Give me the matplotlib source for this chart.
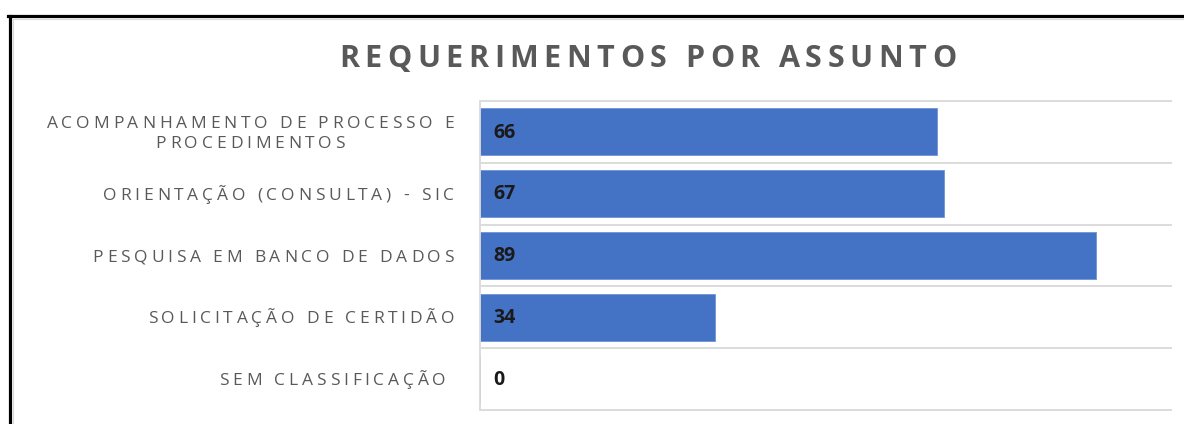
import matplotlib
matplotlib.use("Agg")
import matplotlib.pyplot as plt
from matplotlib.font_manager import FontProperties
from matplotlib.lines import Line2D
from matplotlib.transforms import IdentityTransform

categories = [
    ["ACOMPANHAMENTO DE PROCESSO E", "PROCEDIMENTOS"],
    ["ORIENTAÇÃO (CONSULTA) - SIC"],
    ["PESQUISA EM BANCO DE DADOS"],
    ["SOLICITAÇÃO DE CERTIDÃO"],
    ["SEM CLASSIFICAÇÃO "],
]
values = [66, 67, 89, 34, 0]
title = "REQUERIMENTOS POR ASSUNTO"

W, H = 1184, 424
fig = plt.figure(figsize=(W / 100, H / 100), dpi=100)
fig.patch.set_facecolor("white")
ax = fig.add_axes([480 / W, (H - 410) / H, (1172 - 480) / W, (410 - 101) / H])

grid = "#D9D9D9"
blue = "#4472C4"
grey = "#595959"
FAM = "Open Sans"

ypos = list(range(len(values)))
ax.barh(ypos, values, height=0.76, color=blue, edgecolor="#6F93D3", linewidth=0.6, zorder=2)
ax.set_xlim(0, 100)
ax.set_ylim(len(values) - 0.5, -0.5)
ax.hlines([i - 0.5 for i in range(len(values) + 1)], 0, 100, color=grid, lw=1.3, zorder=1, clip_on=False)
for s in ["top", "right", "bottom"]:
    ax.spines[s].set_visible(False)
ax.spines["left"].set_color(grid)
ax.spines["left"].set_linewidth(1.3)
ax.set_xticks([])
ax.set_yticks([])

val_prop = FontProperties(family=FAM, size=14, weight="bold")
for i, v in enumerate(values):
    ax.annotate(str(v), xy=(0, i), xytext=(9.6, -0.5), textcoords="offset points",
                va="center", ha="left", fontproperties=val_prop,
                color="#1A1A1A", zorder=3)

renderer = fig.canvas.get_renderer()


def advance(ch, prop):
    w1, _, _ = renderer.get_text_width_height_descent("H" + ch + "H", prop, ismath=False)
    w0, _, _ = renderer.get_text_width_height_descent("HH", prop, ismath=False)
    return w1 - w0


def text_width(s, prop, track):
    return sum(advance(c, prop) for c in s) + track * (len(s) - 1)


def spaced(x, y, s, prop, track, color, ha="right"):
    total = text_width(s, prop, track)
    if ha == "right":
        cx = x - total
    elif ha == "center":
        cx = x - total / 2
    else:
        cx = x
    for c in s:
        fig.text(cx, y, c, fontproperties=prop, color=color, ha="left",
                 va="baseline", transform=IdentityTransform())
        cx += advance(c, prop) + track


lab_prop = FontProperties(family=FAM, size=12.5)
lab_track = 3.8
right_x = 454
for i, lines in enumerate(categories):
    cy = ax.transData.transform((0, i))[1]
    if len(lines) == 1:
        spaced(right_x, cy - 6, lines[0], lab_prop, lab_track, grey)
    else:
        w1 = text_width(lines[0], lab_prop, lab_track)
        spaced(right_x, cy + 10 - 6, lines[0], lab_prop, lab_track, grey)
        spaced(right_x - w1 / 2, cy - 10 - 6, lines[1], lab_prop, lab_track, grey, ha="center")

title_prop = FontProperties(family=FAM, size=22, weight="bold")
spaced(647.5, H - 67, title, title_prop, 5.5, grey, ha="center")

# border of the pasted chart
fig.add_artist(Line2D([8 / W, 1], [1 - 15.5 / H] * 2, color="black", lw=2.3))
fig.add_artist(Line2D([9.5 / W] * 2, [0, 1 - 15.5 / H], color="black", lw=2.3))
fig.add_artist(Line2D([12.5 / W, 1], [1 - 19 / H] * 2, color=grid, lw=0.8))
fig.add_artist(Line2D([12.5 / W] * 2, [0, 1 - 19 / H], color=grid, lw=0.8))

fig.savefig("out.png", dpi=100)
